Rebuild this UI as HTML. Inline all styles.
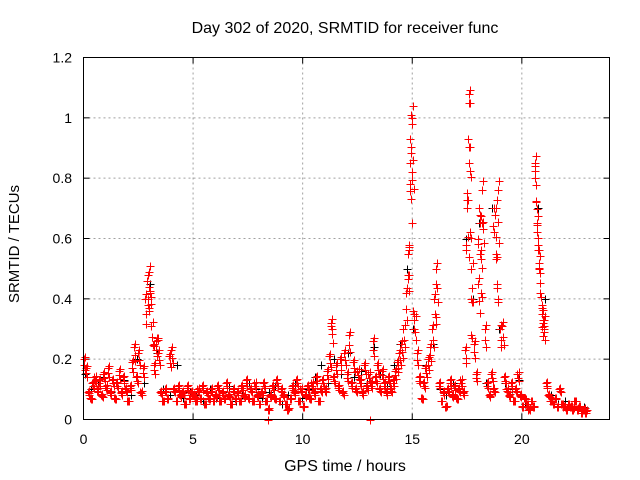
<!DOCTYPE html>
<html><head><meta charset="utf-8"><style>
body{margin:0;background:#fff;}
svg{display:block;font-family:"Liberation Sans",sans-serif;}
</style></head><body>
<svg id="chart" width="640" height="480" viewBox="0 0 640 480">
<g id="grid"></g>
<g id="ticks"></g>
<g id="marks"></g>
<rect x="83.5" y="57.5" width="526" height="362" fill="none" stroke="#000" stroke-width="1"/>
<text x="345" y="33" font-size="16" text-anchor="middle">Day 302 of 2020, SRMTID for receiver func</text>
<text x="345" y="471" font-size="16" text-anchor="middle">GPS time / hours</text>
<text transform="translate(19,244) rotate(-90)" font-size="15" text-anchor="middle">SRMTID / TECUs</text>
</svg>
<script>
const xTicks=[0,5,10,15,20];
const yTicks=[0,0.2,0.4,0.6,0.8,1,1.2];
const yTickLabels=["0","0.2","0.4","0.6","0.8","1","1.2"];
const redStep=0.1;
const redValues=[0.20,0.17,0.09,0.07,0.12,0.14,0.10,0.13,0.08,0.15,
0.11,0.17,0.09,0.13,0.07,0.12,0.16,0.09,0.14,0.10,
0.06,0.11,0.19,0.24,0.14,0.22,0.09,0.17,0.40,0.46,
0.49,0.31,0.18,0.26,0.22,0.09,0.06,0.10,0.07,0.21,
0.23,0.10,0.06,0.11,0.08,0.09,0.05,0.11,0.07,0.09,
0.08,0.06,0.10,0.07,0.11,0.05,0.09,0.07,0.10,0.06,
0.08,0.11,0.06,0.09,0.07,0.12,0.08,0.05,0.10,0.07,
0.09,0.06,0.11,0.08,0.13,0.07,0.10,0.06,0.12,0.08,
0.05,0.09,0.12,0.06,0.03,0.08,0.11,0.07,0.13,0.06,
0.10,0.08,0.05,0.03,0.07,0.11,0.09,0.13,0.06,0.10,
0.04,0.08,0.11,0.07,0.12,0.09,0.14,0.06,0.10,0.13,
0.10,0.16,0.21,0.32,0.14,0.18,0.11,0.20,0.09,0.22,
0.15,0.28,0.12,0.19,0.10,0.16,0.13,0.09,0.18,0.11,
0.15,0.12,0.26,0.14,0.18,0.10,0.16,0.12,0.09,0.14,
0.10,0.13,0.16,0.19,0.22,0.25,0.30,0.42,0.55,0.85,
1.00,0.33,0.22,0.14,0.07,0.12,0.17,0.20,0.24,0.30,
0.40,0.50,0.12,0.06,0.09,0.04,0.10,0.13,0.08,0.11,
0.07,0.10,0.13,0.09,0.23,0.70,1.05,0.50,0.25,0.15,
0.45,0.65,0.76,0.30,0.12,0.08,0.15,0.10,0.70,0.76,
0.30,0.31,0.14,0.10,0.08,0.12,0.06,0.10,0.15,0.08,
0.04,0.07,0.05,0.03,0.06,0.04,0.84,0.65,0.52,0.35,
0.33,0.12,0.08,0.06,0.05,0.07,0.04,0.10,0.05,0.04,
0.03,0.05,0.04,0.03,0.06,0.03,0.04,0.02,0.03,0.02];
const spikeTimes=[2.95,3.0,3.05,3.2,14.8,14.85,14.9,14.92,14.95,14.97,15.05,15.1,16.05,16.1,17.45,17.5,17.55,17.6,17.6,17.65,17.7,17.7,18.0,18.05,18.1,18.15,18.2,18.7,18.75,18.8,18.85,18.9,20.6,20.62,20.65,20.7,20.75,20.8,20.85,20.9,20.95,21.0,11.3,3.4,8.4,13.05];
const spikeValues=[0.38,0.44,0.42,0.25,0.48,0.58,0.78,0.93,1.01,0.82,0.36,0.30,0.35,0.45,0.58,0.75,0.93,1.08,0.85,0.62,0.40,0.28,0.60,0.70,0.55,0.42,0.65,0.64,0.70,0.55,0.45,0.40,0.85,0.80,0.72,0.62,0.58,0.50,0.42,0.38,0.33,0.31,0.31,0.27,0,0];
const blackStart=0.05, blackStep=0.3;
const blackValues=[0.15,0.10,0.12,0.14,0.09,0.11,0.13,0.08,0.20,0.12,
0.45,0.22,0.10,0.08,0.18,0.07,0.09,0.08,0.06,0.10,
0.07,0.09,0.11,0.06,0.08,0.12,0.10,0.07,0.09,0.11,
0.05,0.08,0.12,0.07,0.10,0.14,0.18,0.12,0.20,0.15,
0.22,0.14,0.16,0.12,0.24,0.15,0.11,0.18,0.25,0.50,
0.30,0.12,0.18,0.25,0.10,0.08,0.12,0.10,0.60,0.40,
0.65,0.12,0.70,0.30,0.12,0.10,0.13,0.05,0.06,0.70,
0.40,0.08,0.05,0.06,0.04,0.03,0.04];
const X0=83.5,X1=609.5,Y0=419.5,Y1=57.5,XMAX=24,YMAX=1.2;
const xs=t=>X0+(X1-X0)*t/XMAX;
const ys=v=>Y0-(Y0-Y1)*v/YMAX;
const NS="http://www.w3.org/2000/svg";
function mk(tag,attrs,parent){const e=document.createElementNS(NS,tag);for(const k in attrs)e.setAttribute(k,attrs[k]);parent.appendChild(e);return e;}
const grid=document.getElementById('grid'),ticks=document.getElementById('ticks'),marks=document.getElementById('marks');
xTicks.forEach(t=>{const x=xs(t);
 if(t>0){const g=mk('line',{x1:x,x2:x,y1:Y0,y2:Y1,stroke:'#a0a0a0','stroke-dasharray':'2,3'},grid);
 
 }
 mk('line',{x1:x,x2:x,y1:Y0,y2:Y0-6,stroke:'#000'},ticks);
 mk('line',{x1:x,x2:x,y1:Y1,y2:Y1+6,stroke:'#000'},ticks);
 const l=mk('text',{x:x,y:444,'font-size':14,'text-anchor':'middle'},ticks);l.textContent=String(t);
 
 
});
yTicks.forEach((v,i)=>{const y=ys(v);
 if(v>0&&v<YMAX){const g=mk('line',{x1:X0,x2:X1,y1:y,y2:y,stroke:'#a0a0a0','stroke-dasharray':'2,3'},grid);
 
 }
 mk('line',{x1:X0,x2:X0+6,y1:y,y2:y,stroke:'#000'},ticks);
 mk('line',{x1:X1,x2:X1-6,y1:y,y2:y,stroke:'#000'},ticks);
 const l=mk('text',{x:72,y:y+5,'font-size':14,'text-anchor':'end'},ticks);l.textContent=yTickLabels[i];
 
 
});
function plus(t,v,color,name){const x=Math.round(xs(t))+0.5,y=Math.round(ys(v))+0.5;
 const p=mk('path',{d:`M${x-4},${y}H${x+4}M${x},${y-4}V${y+4}`,stroke:color,'stroke-width':1,fill:'none'},marks);
 
 }
blackValues.forEach((v,i)=>plus(blackStart+i*blackStep,v,'#000','black-point'));
redValues.forEach((v,i)=>{const t=i*redStep;
 plus(t,v,'#ff0000','red-point');
 plus(t+0.03,v*0.85+0.01,'#ff0000','red-point');
 plus(t+0.05,v*1.04,'#ff0000','red-point');
 plus(t+0.07,v*0.75+0.015,'#ff0000','red-point');});
spikeTimes.forEach((t,i)=>{plus(t,spikeValues[i],'#ff0000','red-point');plus(t+0.02,spikeValues[i]*0.97,'#ff0000','red-point');});
</script>
</body></html>
